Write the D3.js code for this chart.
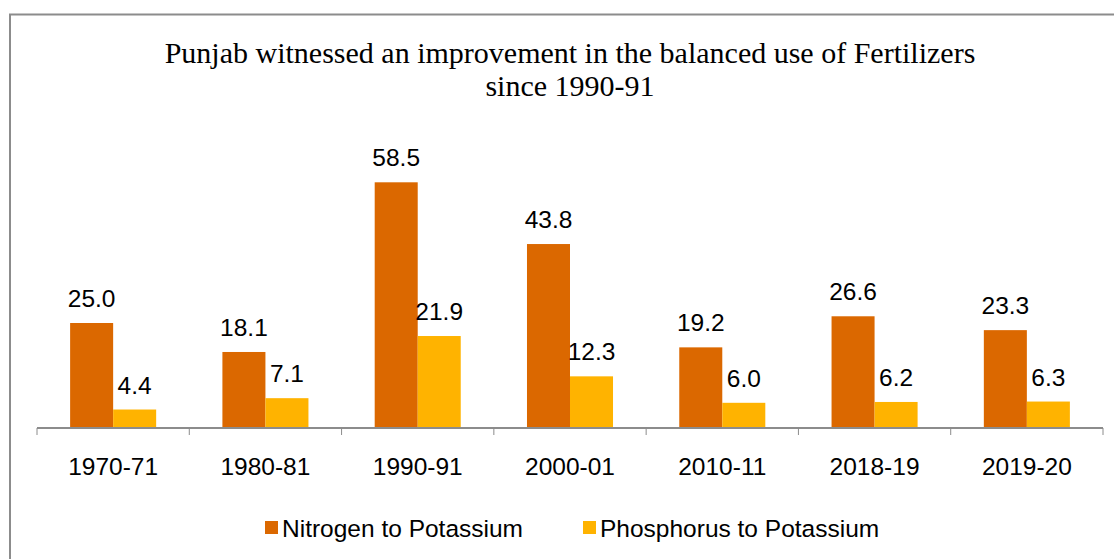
<!DOCTYPE html>
<html>
<head>
<meta charset="utf-8">
<script src="https://cdn.jsdelivr.net/npm/d3@7"></script>
<style>
  body { margin: 0; background: #fff; }
  svg { display: block; }
</style>
</head>
<body>
<div id="chart"></div>
<script>
// Chart data
var years = ["1970-71", "1980-81", "1990-91", "2000-01", "2010-11", "2018-19", "2019-20"];
var nitrogenToPotassium = [25.0, 18.1, 58.5, 43.8, 19.2, 26.6, 23.3];
var phosphorusToPotassium = [4.4, 7.1, 21.9, 12.3, 6.0, 6.2, 6.3];
var seriesNames = ["Nitrogen to Potassium", "Phosphorus to Potassium"];
var seriesColors = ["#DB6800", "#FFB300"];
var titleLines = ["Punjab witnessed an improvement in the balanced use of Fertilizers", "since 1990-91"];

var svgWidth = 1114;
var svgHeight = 559;

var margin = { top: 134, right: 11, bottom: 131, left: 37 };
var width = svgWidth - margin.left - margin.right;
var height = svgHeight - margin.top - margin.bottom;

var svg = d3.select("#chart")
  .append("svg")
  .attr("width", svgWidth)
  .attr("height", svgHeight);

// outer frame
svg.append("rect")
  .attr("x", 10)
  .attr("y", 14.5)
  .attr("width", 1130)
  .attr("height", 600)
  .attr("fill", "#fff")
  .attr("stroke", "#8c8c8c")
  .attr("stroke-width", 2);

// title
svg.append("text")
  .attr("x", 570)
  .attr("y", 63)
  .attr("text-anchor", "middle")
  .style("font-family", "'Liberation Serif', 'Times New Roman', serif")
  .style("font-size", "30px")
  .attr("fill", "#000")
  .selectAll("tspan")
  .data(titleLines)
  .enter()
  .append("tspan")
  .attr("x", 570)
  .attr("dy", (d, i) => i === 0 ? 0 : 33)
  .text(d => d);

var chartGroup = svg.append("g")
  .attr("transform", `translate(${margin.left}, ${margin.top})`);

var x0 = d3.scaleBand()
  .domain(years)
  .range([0, width])
  .paddingInner(0.435)
  .paddingOuter(0.2175);

var x1 = d3.scaleBand()
  .domain([0, 1])
  .range([0, x0.bandwidth()]);

var y = d3.scaleLinear()
  .domain([0, 70])
  .range([height, 0]);

var data = years.map((yr, i) => ({
  year: yr,
  values: [nitrogenToPotassium[i], phosphorusToPotassium[i]]
}));

var groups = chartGroup.selectAll(".grp")
  .data(data)
  .enter()
  .append("g")
  .attr("class", "grp")
  .attr("transform", d => `translate(${x0(d.year)},0)`);

groups.selectAll("rect")
  .data(d => d.values.map((v, k) => ({ v: v, k: k })))
  .enter()
  .append("rect")
  .attr("x", d => x1(d.k))
  .attr("y", d => y(d.v))
  .attr("width", x1.bandwidth())
  .attr("height", d => height - y(d.v))
  .attr("fill", d => seriesColors[d.k]);

groups.selectAll("text")
  .data(d => d.values.map((v, k) => ({ v: v, k: k })))
  .enter()
  .append("text")
  .attr("x", d => x1(d.k) + x1.bandwidth() / 2)
  .attr("y", d => y(d.v) - 16)
  .attr("text-anchor", "middle")
  .style("font-family", "'Liberation Sans', Arial, sans-serif")
  .style("font-size", "24.5px")
  .attr("fill", "#000")
  .text(d => d.v.toFixed(1));

// x axis
var band = width / years.length;
var xAxis = chartGroup.append("g")
  .attr("transform", `translate(0, ${height})`);

xAxis.append("line")
  .attr("x1", 0)
  .attr("x2", width)
  .attr("y1", 0)
  .attr("y2", 0)
  .attr("stroke", "#8c8c8c")
  .attr("stroke-width", 2);

xAxis.selectAll(".tick")
  .data(d3.range(years.length + 1))
  .enter()
  .append("line")
  .attr("x1", d => d * band)
  .attr("x2", d => d * band)
  .attr("y1", 0)
  .attr("y2", 7)
  .attr("stroke", "#8c8c8c")
  .attr("stroke-width", 1);

xAxis.selectAll(".lbl")
  .data(years)
  .enter()
  .append("text")
  .attr("x", d => x0(d) + x0.bandwidth() / 2)
  .attr("y", 47)
  .attr("text-anchor", "middle")
  .style("font-family", "'Liberation Sans', Arial, sans-serif")
  .style("font-size", "24.5px")
  .attr("fill", "#000")
  .text(d => d);

// legend
var legendX = [265, 583];
var legend = svg.selectAll(".legend")
  .data(seriesNames)
  .enter()
  .append("g")
  .attr("transform", (d, i) => `translate(${legendX[i]}, 528)`);

legend.append("rect")
  .attr("x", 0)
  .attr("y", -7)
  .attr("width", 13)
  .attr("height", 13)
  .attr("fill", (d, i) => seriesColors[i]);

legend.append("text")
  .attr("x", 17)
  .attr("y", 9)
  .style("font-family", "'Liberation Sans', Arial, sans-serif")
  .style("font-size", "24.5px")
  .attr("fill", "#000")
  .text(d => d);
</script>
</body>
</html>
